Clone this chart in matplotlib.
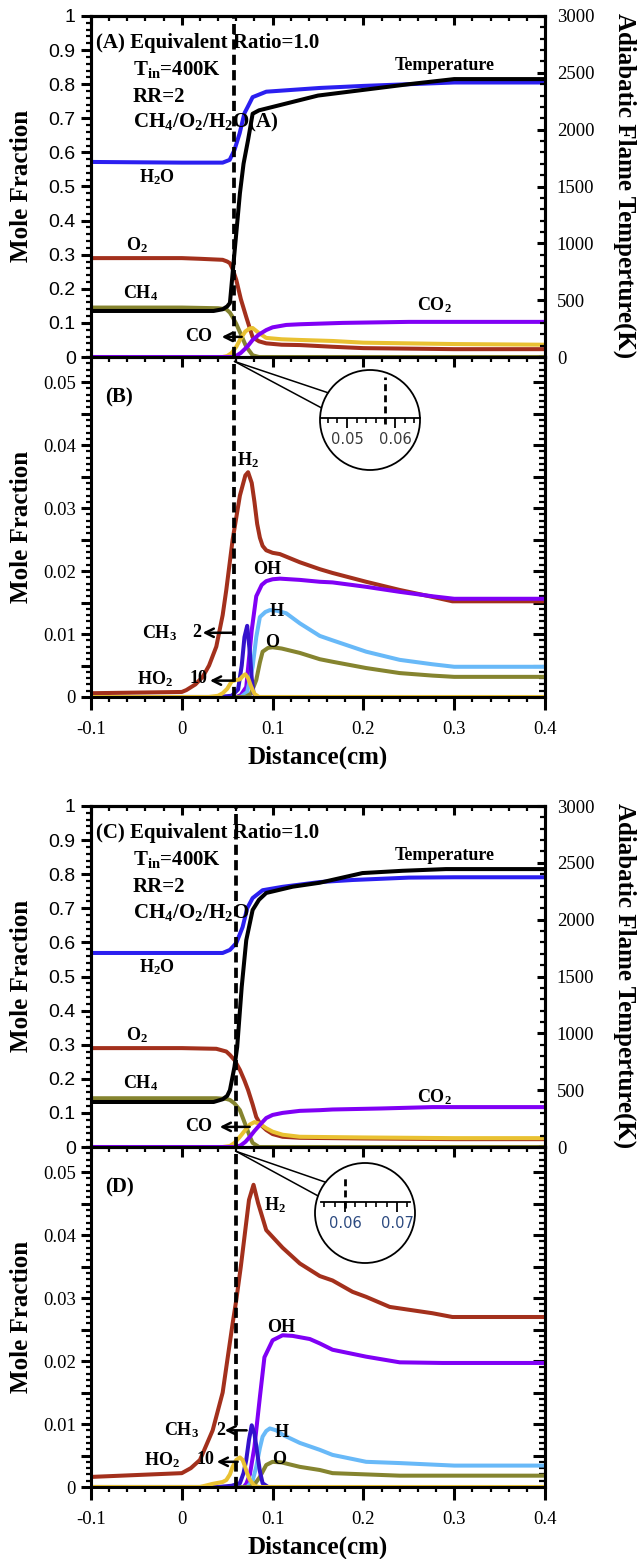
import numpy as np
import matplotlib
matplotlib.use('Agg')
import matplotlib.pyplot as plt
from matplotlib.patches import Circle, ConnectionPatch
from matplotlib.ticker import MultipleLocator, FuncFormatter

plt.rcParams['font.family'] = 'Liberation Serif'
plt.rcParams['mathtext.fontset'] = 'custom'
plt.rcParams['mathtext.rm'] = 'Liberation Serif:bold'
plt.rcParams['mathtext.it'] = 'Liberation Serif:bold'
plt.rcParams['mathtext.bf'] = 'Liberation Serif:bold'
plt.rcParams['mathtext.default'] = 'rm'

# ---------------- data: panel A (major species, with H2O(A)) ----------------
xa_T = [-0.1, 0.035, 0.045, 0.05, 0.053, 0.056, 0.06, 0.064, 0.068, 0.073, 0.078, 0.085, 0.1, 0.15, 0.2, 0.25, 0.3, 0.4]
ya_T = [405, 405, 420, 445, 475, 740, 1090, 1440, 1700, 1910, 2140, 2170, 2200, 2300, 2350, 2400, 2445, 2445]
xa_h2o = [-0.1, 0.0, 0.045, 0.0527, 0.058, 0.0637, 0.069, 0.0727, 0.078, 0.093, 0.152, 0.2, 0.3, 0.4]
ya_h2o = [0.572, 0.570, 0.570, 0.578, 0.607, 0.656, 0.715, 0.734, 0.762, 0.778, 0.789, 0.795, 0.805, 0.805]
xa_o2 = [-0.1, 0.0, 0.02, 0.045, 0.05, 0.053, 0.056, 0.06, 0.065, 0.071, 0.078, 0.085, 0.093, 0.11, 0.13, 0.166, 0.2, 0.3, 0.4]
ya_o2 = [0.29, 0.29, 0.288, 0.285, 0.28, 0.275, 0.258, 0.226, 0.17, 0.117, 0.058, 0.046, 0.04, 0.036, 0.035, 0.03, 0.026, 0.023, 0.023]
xa_ch4 = [-0.1, 0.0, 0.04, 0.049, 0.053, 0.056, 0.06, 0.064, 0.071, 0.078, 0.085, 0.4]
ya_ch4 = [0.145, 0.145, 0.143, 0.14, 0.13, 0.117, 0.097, 0.073, 0.03, 0.005, 0.0, 0.0]
xa_co = [-0.1, 0.045, 0.05, 0.055, 0.06, 0.065, 0.07, 0.075, 0.078, 0.085, 0.093, 0.11, 0.13, 0.166, 0.2, 0.3, 0.4]
ya_co = [0.0, 0.0, 0.003, 0.012, 0.03, 0.055, 0.075, 0.084, 0.085, 0.07, 0.056, 0.052, 0.05, 0.047, 0.042, 0.038, 0.036]
xa_co2 = [-0.1, 0.058, 0.065, 0.072, 0.078, 0.085, 0.093, 0.1, 0.115, 0.13, 0.177, 0.25, 0.4]
ya_co2 = [0.0, 0.0, 0.012, 0.03, 0.05, 0.066, 0.079, 0.087, 0.094, 0.096, 0.1, 0.103, 0.103]

# ---------------- data: panel B (minor species) ----------------
xb_h2 = [-0.1, 0.0, 0.005, 0.015, 0.023, 0.03, 0.038, 0.045, 0.049, 0.056, 0.064, 0.07, 0.073, 0.077, 0.08, 0.083,
         0.086, 0.089, 0.093, 0.1, 0.108, 0.13, 0.152, 0.166, 0.203, 0.24, 0.276, 0.298, 0.4]
yb_h2 = [0.0006, 0.0008, 0.0011, 0.002, 0.0032, 0.005, 0.008, 0.013, 0.017, 0.025, 0.032, 0.0352, 0.0357, 0.034, 0.031,
         0.0275, 0.0253, 0.0240, 0.0233, 0.0229, 0.0227, 0.0214, 0.0203, 0.0197, 0.0183, 0.017, 0.0159, 0.0152, 0.0152]
xb_oh = [-0.1, 0.06, 0.065, 0.071, 0.077, 0.082, 0.088, 0.093, 0.1, 0.108, 0.13, 0.152, 0.166, 0.203, 0.24, 0.276, 0.3, 0.4]
yb_oh = [0, 0, 0.0003, 0.0016, 0.0106, 0.016, 0.0178, 0.0184, 0.0187, 0.0188, 0.0186, 0.0183, 0.0182, 0.0175, 0.0167,
         0.016, 0.0156, 0.0156]
xb_h = [-0.1, 0.065, 0.072, 0.078, 0.082, 0.086, 0.092, 0.097, 0.105, 0.115, 0.13, 0.152, 0.166, 0.203, 0.24, 0.276, 0.3, 0.4]
yb_h = [0, 0, 0.0008, 0.0048, 0.0095, 0.0127, 0.0135, 0.0138, 0.0137, 0.0133, 0.0117, 0.0097, 0.009, 0.0072, 0.0059,
        0.0052, 0.0048, 0.0048]
xb_o = [-0.1, 0.07, 0.076, 0.082, 0.086, 0.089, 0.095, 0.1, 0.11, 0.13, 0.152, 0.166, 0.203, 0.24, 0.276, 0.3, 0.4]
yb_o = [0, 0, 0.0005, 0.0027, 0.0055, 0.0072, 0.0078, 0.0079, 0.0077, 0.007, 0.006, 0.0056, 0.0046, 0.0038, 0.0034,
        0.0032, 0.0032]
xb_ch3 = [-0.1, 0.04, 0.055, 0.062, 0.066, 0.069, 0.072, 0.075, 0.077, 0.079, 0.082, 0.4]
yb_ch3 = [0, 0, 0.0001, 0.0006, 0.0025, 0.00475, 0.00565, 0.0035, 0.0015, 0.0003, 0, 0]  # raw, drawn x2
xb_ho2 = [-0.1, 0.03, 0.04, 0.045, 0.05, 0.055, 0.06, 0.064, 0.067, 0.07, 0.073, 0.076, 0.08, 0.085, 0.4]
yb_ho2 = [0, 0, 0.00002, 0.00006, 0.00013, 0.00025, 0.00027, 0.00028, 0.00033, 0.00036, 0.0003, 0.00018, 0.00005, 0, 0]  # raw, drawn x10

# ---------------- data: panel C (major species, with H2O) ----------------
xc_T = [-0.1, 0.035, 0.045, 0.05, 0.053, 0.058, 0.061, 0.066, 0.071, 0.078, 0.085, 0.093, 0.122, 0.152, 0.199, 0.243, 0.291, 0.4]
yc_T = [396, 396, 420, 450, 500, 705, 880, 1410, 1820, 2085, 2175, 2235, 2290, 2325, 2410, 2430, 2445, 2445]
xc_h2o = [-0.1, 0.0, 0.045, 0.053, 0.06, 0.067, 0.072, 0.078, 0.089, 0.1, 0.111, 0.152, 0.188, 0.25, 0.3, 0.4]
yc_h2o = [0.569, 0.569, 0.569, 0.578, 0.598, 0.645, 0.70, 0.73, 0.753, 0.758, 0.763, 0.777, 0.783, 0.79, 0.791, 0.791]
xc_o2 = [-0.1, 0.0, 0.038, 0.049, 0.053, 0.058, 0.064, 0.069, 0.073, 0.078, 0.082, 0.087, 0.093, 0.1, 0.111, 0.13, 0.2, 0.3, 0.4]
yc_o2 = [0.29, 0.29, 0.288, 0.28, 0.27, 0.255, 0.226, 0.195, 0.167, 0.125, 0.088, 0.065, 0.05, 0.038, 0.03, 0.027, 0.025,
         0.023, 0.023]
xc_ch4 = [-0.1, 0.0, 0.038, 0.049, 0.053, 0.058, 0.064, 0.068, 0.071, 0.075, 0.078, 0.085, 0.4]
yc_ch4 = [0.143, 0.143, 0.143, 0.141, 0.138, 0.128, 0.108, 0.08, 0.059, 0.03, 0.012, 0, 0]
xc_co = [-0.1, 0.045, 0.053, 0.058, 0.064, 0.07, 0.075, 0.08, 0.086, 0.093, 0.1, 0.111, 0.13, 0.2, 0.3, 0.4]
yc_co = [0, 0, 0.003, 0.012, 0.03, 0.05, 0.066, 0.073, 0.068, 0.055, 0.045, 0.036, 0.03, 0.028, 0.026, 0.026]
xc_co2 = [-0.1, 0.06, 0.065, 0.07, 0.075, 0.08, 0.086, 0.093, 0.1, 0.111, 0.13, 0.152, 0.166, 0.22, 0.276, 0.4]
yc_co2 = [0, 0, 0.005, 0.015, 0.03, 0.047, 0.065, 0.085, 0.094, 0.1, 0.106, 0.108, 0.11, 0.113, 0.117, 0.117]

# ---------------- data: panel D (minor species) ----------------
xd_h2 = [-0.1, 0.0, 0.01, 0.02, 0.034, 0.045, 0.05, 0.056, 0.06, 0.065, 0.069, 0.074, 0.079, 0.084, 0.093, 0.111, 0.13,
         0.152, 0.166, 0.188, 0.203, 0.229, 0.276, 0.298, 0.4]
yd_h2 = [0.0016, 0.0022, 0.003, 0.0043, 0.009, 0.015, 0.02, 0.026, 0.0297, 0.035, 0.0397, 0.0456, 0.048, 0.0451, 0.0408,
         0.038, 0.0355, 0.0335, 0.0328, 0.031, 0.0302, 0.0286, 0.0276, 0.027, 0.027]
xd_oh = [-0.1, 0.068, 0.071, 0.075, 0.08, 0.086, 0.091, 0.1, 0.111, 0.122, 0.141, 0.152, 0.166, 0.203, 0.24, 0.287, 0.4]
yd_oh = [0, 0, 0.0005, 0.002, 0.0064, 0.0143, 0.0206, 0.0233, 0.0241, 0.024, 0.0235, 0.0228, 0.0218, 0.0207, 0.0198,
         0.0197, 0.0197]
xd_h = [-0.1, 0.072, 0.078, 0.082, 0.086, 0.089, 0.093, 0.097, 0.104, 0.111, 0.13, 0.152, 0.166, 0.203, 0.24, 0.3, 0.4]
yd_h = [0, 0, 0.001, 0.0032, 0.0062, 0.008, 0.0089, 0.0093, 0.009, 0.0083, 0.007, 0.0059, 0.0051, 0.004, 0.0038, 0.0034,
        0.0034]
xd_o = [-0.1, 0.075, 0.08, 0.086, 0.093, 0.1, 0.11, 0.13, 0.152, 0.166, 0.203, 0.24, 0.3, 0.4]
yd_o = [0, 0, 0.0004, 0.0016, 0.0035, 0.004, 0.0039, 0.0032, 0.0027, 0.0022, 0.002, 0.0018, 0.0018, 0.0018]
xd_ch3 = [-0.1, 0.04, 0.055, 0.064, 0.068, 0.071, 0.074, 0.077, 0.08, 0.083, 0.086, 0.089, 0.095, 0.4]
yd_ch3 = [0, 0, 0.0001, 0.0003, 0.0011, 0.00215, 0.00375, 0.0049, 0.00425, 0.00275, 0.00125, 0.0003, 0, 0]
xd_ho2 = [-0.1, 0.02, 0.034, 0.045, 0.049, 0.053, 0.056, 0.06, 0.064, 0.067, 0.069, 0.072, 0.075, 0.08, 0.085, 0.4]
yd_ho2 = [0, 0, 0.00005, 0.00008, 0.00011, 0.0002, 0.00032, 0.00043, 0.00047, 0.00043, 0.00035, 0.00022, 0.00011,
          0.00002, 0, 0]

ch3_factor = 2
ho2_factor = 10
flame_ab = 0.058   # dashed marker, panels A/B
flame_cd = 0.06    # dashed marker, panels C/D

# ---------------- styling ----------------
W, H = 637, 1559
c_h2o, c_o2, c_ch4 = '#2b1ff0', '#a3301c', '#85842f'
c_co, c_co2, c_h, c_ch3 = '#e9c132', '#8000f5', '#68b9f8', '#3412cc'
LW = 2.9
SPW = 2.2

fig = plt.figure(figsize=(W / 100, H / 100), dpi=100)


def box(top, bottom):
    return [91 / W, 1 - bottom / H, 454 / W, (bottom - top) / H]


def fmt(v, p):
    return f'{round(v, 6) + 0:g}'


def fmt_minor(v, p):
    r = round(v / 0.01)
    return f'{round(v, 6) + 0:g}' if abs(v - r * 0.01) < 1e-7 else ''


def base_axes(rect, ymax, ymaj, ymin, yformat, sans, xlabels):
    ax = fig.add_axes(rect)
    ax.patch.set_visible(False)
    ax.set_xlim(-0.1, 0.4)
    ax.set_ylim(0, ymax)
    ax.xaxis.set_major_locator(MultipleLocator(0.1))
    ax.xaxis.set_minor_locator(MultipleLocator(0.02))
    ax.yaxis.set_major_locator(MultipleLocator(ymaj))
    ax.yaxis.set_minor_locator(MultipleLocator(ymin))
    ax.yaxis.set_major_formatter(FuncFormatter(yformat))
    ax.xaxis.set_major_formatter(FuncFormatter(fmt))
    for s in ax.spines.values():
        s.set_linewidth(SPW)
    ax.tick_params(axis='y', which='both', direction='out', right=False, width=SPW, pad=3.5)
    ax.tick_params(axis='y', which='major', length=7.5, labelsize=14 if sans else 13.5,
                   labelfontfamily='Liberation Sans' if sans else 'Liberation Serif')
    ax.tick_params(axis='y', which='minor', length=3.6, width=1.6)
    ax.tick_params(axis='x', which='both', direction='out', top=False, width=SPW,
                   labelbottom=xlabels, labelsize=13.5, pad=8)
    ax.tick_params(axis='x', which='major', length=9 if xlabels else 7.5)
    ax.tick_params(axis='x', which='minor', length=3.6, width=1.6)
    return ax


def top_ticks(ax):
    sec = ax.secondary_xaxis('top')
    sec.xaxis.set_major_locator(MultipleLocator(0.1))
    sec.xaxis.set_minor_locator(MultipleLocator(0.02))
    sec.tick_params(which='both', direction='in', labeltop=False, width=SPW)
    sec.tick_params(which='major', length=6.5)
    sec.tick_params(which='minor', length=3.6, width=1.6)
    sec.spines['top'].set_linewidth(SPW)


def temp_axis(ax):
    t = ax.twinx()
    t.set_ylim(0, 3000)
    t.yaxis.set_major_locator(MultipleLocator(500))
    t.yaxis.set_minor_locator(MultipleLocator(100))
    t.tick_params(which='both', direction='in', width=SPW)
    t.tick_params(which='major', length=6, labelsize=13.5, pad=8.5)
    t.tick_params(which='minor', length=3.6, width=1.6)
    for s in t.spines.values():
        s.set_linewidth(SPW)
    return t


def right_ticks(ax):
    sec = ax.secondary_yaxis('right')
    sec.yaxis.set_major_locator(MultipleLocator(0.005))
    sec.yaxis.set_minor_locator(MultipleLocator(0.001))
    sec.tick_params(which='both', direction='in', labelright=False, width=SPW)
    sec.tick_params(which='major', length=8.5)
    sec.tick_params(which='minor', length=4.5, width=1.6)
    sec.spines['right'].set_linewidth(SPW)


def lab(ax, x, y, s, size=13, ha='center'):
    ax.text(x, y, s, fontsize=size, fontweight='bold', ha=ha, va='center', family='Liberation Serif')


def arrow(ax, x0, x1, y):
    ax.annotate('', xy=(x1, y), xytext=(x0, y),
                arrowprops=dict(arrowstyle='->', lw=1.8, color='k', shrinkA=0, shrinkB=0, mutation_scale=15))


def dashed(ax, x):
    ax.axvline(x, color='k', lw=2.7, ls=(0, (2.7, 1.4)), zorder=5)


def major_panel(top, bottom, T, h2o, o2, ch4, co, co2, xflame, tag, fuel, co_arrow):
    ax = base_axes(box(top, bottom), 1.0, 0.1, 0.02, fmt, True, False)
    top_ticks(ax)
    t = temp_axis(ax)
    ax.plot(*h2o, color=c_h2o, lw=LW)
    ax.plot(*o2, color=c_o2, lw=LW)
    ax.plot(*ch4, color=c_ch4, lw=LW)
    ax.plot(*co, color=c_co, lw=LW)
    ax.plot(*co2, color=c_co2, lw=LW)
    t.plot(*T, color='k', lw=LW)
    dashed(ax, xflame)
    lab(ax, -0.0945, 0.921, tag + ' Equivalent Ratio=1.0', 15, 'left')
    lab(ax, -0.0538, 0.842, r'T$_{\mathrm{in}}$=400K', 15, 'left')
    lab(ax, -0.0538, 0.763, 'RR=2', 15, 'left')
    lab(ax, -0.0538, 0.689, fuel, 15, 'left')
    lab(ax, 0.290, 0.856, 'Temperature')
    lab(ax, -0.0275, 0.528, r'$\mathrm{H_2O}$')
    lab(ax, -0.0495, 0.328, r'$\mathrm{O_2}$')
    lab(ax, -0.045, 0.188, r'$\mathrm{CH_4}$')
    lab(ax, 0.0187, 0.059, 'CO')
    arrow(ax, co_arrow[0], co_arrow[1], 0.059)
    return ax


def minor_panel(top, bottom, h2, oh, hh, oo, ch3, ho2, xflame, tag, pos):
    ax = base_axes(box(top, bottom), 0.054, 0.005, 0.001, fmt_minor, False, True)
    right_ticks(ax)
    ax.plot(*h2, color=c_o2, lw=LW)
    ax.plot(*oh, color=c_co2, lw=LW)
    ax.plot(*hh, color=c_h, lw=LW)
    ax.plot(*oo, color=c_ch4, lw=LW)
    ax.plot(ch3[0], np.array(ch3[1]) * ch3_factor, color=c_ch3, lw=LW)
    ax.plot(ho2[0], np.array(ho2[1]) * ho2_factor, color=c_co, lw=LW)
    dashed(ax, xflame)
    lab(ax, -0.069, 0.0476, tag, 15)
    for key, s in [('H2', r'$\mathrm{H_2}$'), ('OH', 'OH'), ('H', 'H'), ('O', 'O'),
                   ('CH3', r'$\mathrm{CH_3}$'), ('HO2', r'$\mathrm{HO_2}$')]:
        lab(ax, pos[key][0], pos[key][1], s)
    lab(ax, pos['n2'][0], pos['CH3'][1], str(ch3_factor))
    lab(ax, pos['n10'][0], pos['HO2'][1], str(ho2_factor))
    arrow(ax, pos['a2'][0], pos['a2'][1], pos['CH3'][1])
    arrow(ax, pos['a10'][0], pos['a10'][1], pos['HO2'][1] - 0.0003)
    return ax


def magnifier(ax, px_left, px_top, xlim, ybase, bounds, xflame, dash_top, angles, ticklab_color):
    ins = fig.add_axes([px_left / W, 1 - (px_top + 100) / H, 100 / W, 100 / H])
    ins.patch.set_visible(False)
    ins.set_xlim(*xlim)
    ins.set_ylim(0, 1)
    for k in ['top', 'left', 'right']:
        ins.spines[k].set_visible(False)
    ins.spines['bottom'].set_position(('axes', ybase))
    ins.spines['bottom'].set_bounds(*bounds)
    ins.spines['bottom'].set_linewidth(1.3)
    ins.set_yticks([])
    ins.xaxis.set_major_locator(MultipleLocator(0.01))
    ins.xaxis.set_minor_locator(MultipleLocator(0.002))
    ins.xaxis.set_major_formatter(FuncFormatter(lambda v, p: f'{v:.2f}'))
    ins.tick_params(which='major', direction='out', length=7, width=1.3, labelsize=10.5, pad=3,
                    labelcolor=ticklab_color, labelfontfamily='DejaVu Sans')
    ins.tick_params(which='minor', direction='out', length=3.5, width=1.2)
    ins.add_patch(Circle((0.5, 0.5), 0.5, transform=ins.transAxes, fill=False, lw=1.3, clip_on=False))
    ins.plot([xflame, xflame], [ybase - 0.06, dash_top], color='k', lw=2.0, ls=(0, (2.5, 1.5)), clip_on=False)
    for a in angles:
        ang = np.radians(a)
        cp = ConnectionPatch(xyA=(xflame, 0.0533), coordsA=ax.transData,
                             xyB=(0.5 + 0.5 * np.cos(ang), 0.5 + 0.5 * np.sin(ang)), coordsB=ins.transAxes,
                             color='k', lw=1.1)
        fig.add_artist(cp)


axA = major_panel(16, 357, (xa_T, ya_T), (xa_h2o, ya_h2o), (xa_o2, ya_o2), (xa_ch4, ya_ch4), (xa_co, ya_co),
                  (xa_co2, ya_co2), flame_ab, '(A)', r'$\mathrm{CH_4/O_2/H_2O(A)}$', (0.066, 0.044))
lab(axA, 0.278, 0.152, r'$\mathrm{CO_2}$')

axB = minor_panel(357, 697, (xb_h2, yb_h2), (xb_oh, yb_oh), (xb_h, yb_h), (xb_o, yb_o), (xb_ch3, yb_ch3),
                  (xb_ho2, yb_ho2), flame_ab, '(B)',
                  {'H2': (0.0725, 0.0376), 'OH': (0.0945, 0.0202), 'H': (0.104, 0.0135), 'O': (0.1, 0.0087),
                   'CH3': (-0.0242, 0.0102), 'HO2': (-0.0297, 0.0029), 'n2': (0.0165,), 'n10': (0.0187,),
                   'a2': (0.058, 0.023), 'a10': (0.058, 0.031)})
magnifier(axB, 320, 370, (0.04438, 0.06521), 0.52, (0.0446, 0.0652), flame_ab, 0.93, (147, 166), '#3a3a3a')

axC = major_panel(806, 1147, (xc_T, yc_T), (xc_h2o, yc_h2o), (xc_o2, yc_o2), (xc_ch4, yc_ch4), (xc_co, yc_co),
                  (xc_co2, yc_co2), flame_cd, '(C)', r'$\mathrm{CH_4/O_2/H_2O}$', (0.0747, 0.0418))
lab(axC, 0.278, 0.147, r'$\mathrm{CO_2}$')

axD = minor_panel(1147, 1487, (xd_h2, yd_h2), (xd_oh, yd_oh), (xd_h, yd_h), (xd_o, yd_o), (xd_ch3, yd_ch3),
                  (xd_ho2, yd_ho2), flame_cd, '(D)',
                  {'H2': (0.1022, 0.0448), 'OH': (0.11, 0.0254), 'H': (0.11, 0.0086), 'O': (0.1077, 0.0043),
                   'CH3': (0.0, 0.009), 'HO2': (-0.022, 0.0043), 'n2': (0.0429,), 'n10': (0.0264,),
                   'a2': (0.0714, 0.0473), 'a10': (0.0615, 0.0385)})
magnifier(axD, 315, 1163, (0.05423, 0.07346), 0.61, (0.0554, 0.0725), flame_cd, 0.88, (142, 160), '#2c4a80')

# axis titles
for yc in (186, 527, 976, 1317):
    fig.text(22 / W, 1 - yc / H, 'Mole Fraction', rotation=90, fontsize=18, fontweight='bold',
             ha='center', va='center')
for yc in (186, 976):
    fig.text(625 / W, 1 - yc / H, 'Adiabatic Flame Temperture(K)', rotation=270, fontsize=18,
             fontweight='bold', ha='center', va='center')
for yc in (757, 1547):
    fig.text(318 / W, 1 - yc / H, 'Distance(cm)', fontsize=18, fontweight='bold', ha='center', va='center')

fig.savefig('out.png', dpi=100)
